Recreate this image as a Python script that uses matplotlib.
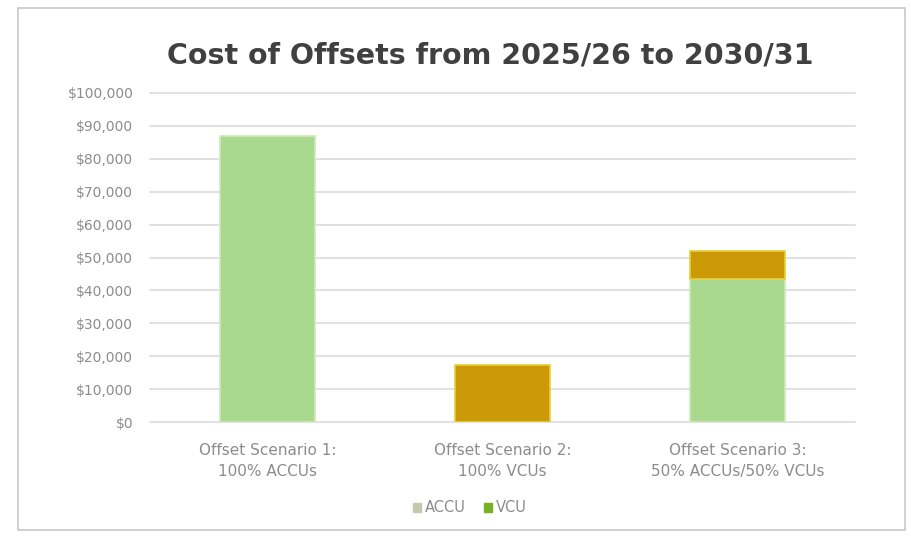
import matplotlib.pyplot as plt
from matplotlib.patches import Patch, Rectangle
from matplotlib.ticker import FuncFormatter
import numpy as np

scenarios = ['Offset Scenario 1:\n100% ACCUs', 'Offset Scenario 2:\n100% VCUs',
             'Offset Scenario 3:\n50% ACCUs/50% VCUs']
accu = [87000, 0, 43500]
vcu = [0, 17200, 8600]

fig = plt.figure(figsize=(9.12, 5.37), dpi=100)
fig.patches.append(Rectangle((18 / 912, 1 - 530 / 537), 887 / 912, 522 / 537,
                             transform=fig.transFigure, fill=False,
                             edgecolor='#c8c8c8', lw=1.2))

ax = fig.add_axes([150 / 912, 1 - 422 / 537, 705 / 912, 329 / 537])
x = np.arange(len(scenarios))
w = 0.405

# skip zero segments so no stray edge lines get drawn
accu_m = np.ma.masked_equal(accu, 0)
vcu_m = np.ma.masked_equal(vcu, 0)
ax.bar(x, accu_m, w, color='#a8d98f', edgecolor='#cdeab8', lw=1.2, zorder=3)
ax.bar(x, vcu_m, w, bottom=accu, color='#cc9a06', edgecolor='#e6cf3a', lw=1.2, zorder=3)

ax.set_xlim(-0.5, 2.5)
ax.set_ylim(0, 100000)
ax.set_yticks(np.arange(0, 100001, 10000))
ax.yaxis.set_major_formatter(FuncFormatter(lambda v, p: '${:,.0f}'.format(v)))
for yv in np.arange(0, 100001, 10000):
    ax.axhline(yv, color='#d9d9d9', lw=1.1, zorder=0, clip_on=False)
ax.set_xticks(x)
ax.set_xticklabels(scenarios, fontsize=11, color='#8c8c8c', linespacing=1.5)
ax.tick_params(axis='both', length=0, colors='#8c8c8c')
ax.tick_params(axis='y', pad=12, labelsize=10)
ax.tick_params(axis='x', pad=15)
for s in ax.spines.values():
    s.set_visible(False)

fig.text(490 / 912, 1 - 55 / 537, 'Cost of Offsets from 2025/26 to 2030/31',
         ha='center', va='center', fontsize=20.5, fontweight='bold', color='#404040')

handles = [Patch(color='#c4c8ae', label='ACCU'), Patch(color='#78b022', label='VCU')]
fig.legend(handles=handles, loc='center', bbox_to_anchor=(470 / 912, 1 - 508 / 537),
           ncol=2, frameon=False, fontsize=10.5, labelcolor='#8c8c8c',
           handlelength=0.55, handleheight=0.55, handletextpad=0.3, columnspacing=1.2)

fig.savefig('out.png', dpi=100)
